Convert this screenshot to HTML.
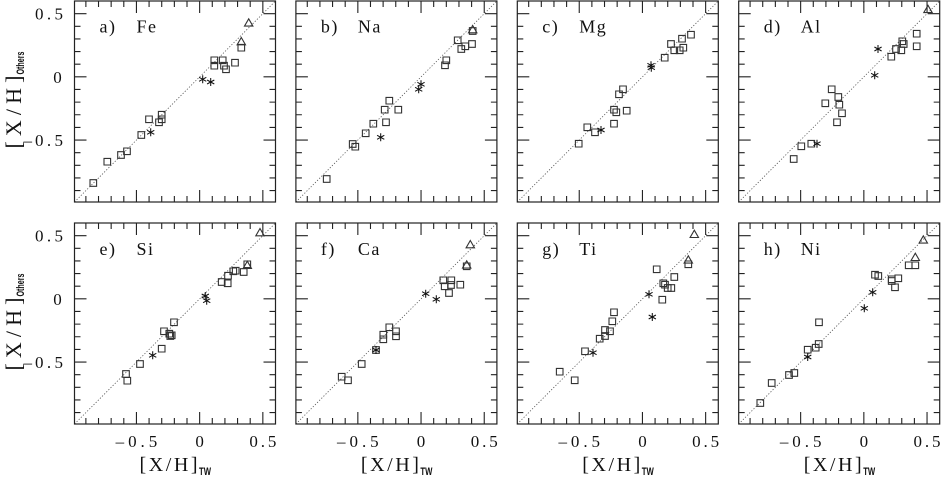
<!DOCTYPE html>
<html>
<head>
<meta charset="utf-8">
<style>
html,body{margin:0;padding:0;background:#fff;}
svg{display:block;}
text{font-family:"Liberation Serif",serif;fill:#111;}
.tk{font-size:17px;}
.pl{font-size:18px;letter-spacing:1.5px;}
.sub{font-family:"Liberation Sans",sans-serif;font-weight:bold;}
</style>
</head>
<body>
<svg width="941" height="478" viewBox="0 0 941 478" xmlns="http://www.w3.org/2000/svg">
<defs>
<g id="frame">
<line x1="0" y1="201" x2="201" y2="0" stroke="#555" stroke-width="0.8" stroke-dasharray="1.2 1.8"/>
<rect x="0" y="0" width="201" height="201" fill="none" stroke="#222" stroke-width="1.2"/>
<path fill="none" stroke="#222" stroke-width="1.1" d="M11.38 201v-6M24.02 201v-6M36.66 201v-6M49.3 201v-6M61.94 201v-12M74.58 201v-6M87.22 201v-6M99.86 201v-6M112.5 201v-6M125.14 201v-12M137.78 201v-6M150.42 201v-6M163.06 201v-6M175.7 201v-6M188.34 201v-12M11.38 0v6M24.02 0v6M36.66 0v6M49.3 0v6M61.94 0v12M74.58 0v6M87.22 0v6M99.86 0v6M112.5 0v6M125.14 0v12M137.78 0v6M150.42 0v6M163.06 0v6M175.7 0v6M188.34 0v12M0 12.64h12M0 25.28h6M0 37.92h6M0 50.56h6M0 63.2h6M0 75.84h12M0 88.48h6M0 101.12h6M0 113.76h6M0 126.4h6M0 139.04h12M0 151.68h6M0 164.32h6M0 176.96h6M0 189.6h6M201 12.64h-12M201 25.28h-6M201 37.92h-6M201 50.56h-6M201 63.2h-6M201 75.84h-12M201 88.48h-6M201 101.12h-6M201 113.76h-6M201 126.4h-6M201 139.04h-12M201 151.68h-6M201 164.32h-6M201 176.96h-6M201 189.6h-6"/>
</g>
<path id="sq" d="M-3.3 -3.3h6.6v6.6h-6.6z" fill="none" stroke="#333" stroke-width="1.1"/>
<path id="tr" d="M0 -4.5L4.2 2.8H-4.2Z" fill="none" stroke="#333" stroke-width="1.1"/>
<path id="as" d="M0 -4V4M-3.6 -2L3.6 2M-3.6 2L3.6 -2" fill="none" stroke="#111" stroke-width="1.05"/>
</defs>

<!-- frames -->
<use href="#frame" transform="translate(74.5,1)"/>
<use href="#frame" transform="translate(295.9,1)"/>
<use href="#frame" transform="translate(517.3,1)"/>
<use href="#frame" transform="translate(738.7,1)"/>
<use href="#frame" transform="translate(74.5,223)"/>
<use href="#frame" transform="translate(295.9,223)"/>
<use href="#frame" transform="translate(517.3,223)"/>
<use href="#frame" transform="translate(738.7,223)"/>

<!-- panel labels -->
<text class="pl" x="99.5" y="32.5">a)</text><text class="pl" x="136.5" y="32.5">Fe</text>
<text class="pl" x="320.9" y="32.5">b)</text><text class="pl" x="357.9" y="32.5">Na</text>
<text class="pl" x="542.3" y="32.5">c)</text><text class="pl" x="579.3" y="32.5">Mg</text>
<text class="pl" x="763.7" y="32.5">d)</text><text class="pl" x="800.7" y="32.5">Al</text>
<text class="pl" x="99.5" y="255">e)</text><text class="pl" x="136.5" y="255">Si</text>
<text class="pl" x="320.9" y="255">f)</text><text class="pl" x="357.9" y="255">Ca</text>
<text class="pl" x="542.3" y="255">g)</text><text class="pl" x="579.3" y="255">Ti</text>
<text class="pl" x="763.7" y="255">h)</text><text class="pl" x="800.7" y="255">Ni</text>

<!-- y tick labels -->
<text class="tk" x="35" y="19.6" textLength="28" lengthAdjust="spacing">0.5</text>
<text class="tk" x="53.3" y="82.8">0</text>
<text class="tk" x="23.5" y="146">–</text>
<text class="tk" x="35" y="146" textLength="28" lengthAdjust="spacing">0.5</text>
<text class="tk" x="35" y="241.6" textLength="28" lengthAdjust="spacing">0.5</text>
<text class="tk" x="53.3" y="304.8">0</text>
<text class="tk" x="23.5" y="368">–</text>
<text class="tk" x="35" y="368" textLength="28" lengthAdjust="spacing">0.5</text>

<!-- x tick labels -->
<text class="tk" x="115.64" y="447" textLength="41.6" lengthAdjust="spacing">–0.5</text>
<text class="tk" x="195.39" y="447">0</text>
<text class="tk" x="249.34" y="447" textLength="27" lengthAdjust="spacing">0.5</text>
<text class="tk" x="337.04" y="447" textLength="41.6" lengthAdjust="spacing">–0.5</text>
<text class="tk" x="416.79" y="447">0</text>
<text class="tk" x="470.74" y="447" textLength="27" lengthAdjust="spacing">0.5</text>
<text class="tk" x="558.44" y="447" textLength="41.6" lengthAdjust="spacing">–0.5</text>
<text class="tk" x="638.19" y="447">0</text>
<text class="tk" x="692.14" y="447" textLength="27" lengthAdjust="spacing">0.5</text>
<text class="tk" x="779.84" y="447" textLength="41.6" lengthAdjust="spacing">–0.5</text>
<text class="tk" x="859.59" y="447">0</text>
<text class="tk" x="913.54" y="447" textLength="27" lengthAdjust="spacing">0.5</text>

<!-- x titles -->
<text x="139.5" y="471" font-size="20" textLength="58" lengthAdjust="spacing">[X/H]</text>
<text class="sub" x="199" y="475" font-size="11" textLength="12" lengthAdjust="spacingAndGlyphs">TW</text>
<text x="360.9" y="471" font-size="20" textLength="58" lengthAdjust="spacing">[X/H]</text>
<text class="sub" x="420.4" y="475" font-size="11" textLength="12" lengthAdjust="spacingAndGlyphs">TW</text>
<text x="582.3" y="471" font-size="20" textLength="58" lengthAdjust="spacing">[X/H]</text>
<text class="sub" x="641.8" y="475" font-size="11" textLength="12" lengthAdjust="spacingAndGlyphs">TW</text>
<text x="803.7" y="471" font-size="20" textLength="58" lengthAdjust="spacing">[X/H]</text>
<text class="sub" x="863.2" y="475" font-size="11" textLength="12" lengthAdjust="spacingAndGlyphs">TW</text>

<!-- y titles -->
<g transform="translate(21,101.5) rotate(-90)">
<text x="-47" y="0" font-size="22" textLength="73" lengthAdjust="spacing">[X/H]</text>
<text class="sub" x="27" y="3" font-size="11" textLength="23" lengthAdjust="spacingAndGlyphs">Others</text>
</g>
<g transform="translate(21,323.5) rotate(-90)">
<text x="-47" y="0" font-size="22" textLength="73" lengthAdjust="spacing">[X/H]</text>
<text class="sub" x="27" y="3" font-size="11" textLength="23" lengthAdjust="spacingAndGlyphs">Others</text>
</g>

<!-- panel a: Fe -->
<use href="#sq" x="93.3" y="183"/><use href="#sq" x="107.3" y="161.7"/><use href="#sq" x="121" y="155"/><use href="#sq" x="127" y="151.3"/><use href="#sq" x="141.3" y="135"/><use href="#sq" x="149" y="119.3"/><use href="#sq" x="159" y="122.3"/><use href="#sq" x="161.7" y="114.7"/><use href="#sq" x="161.7" y="119.3"/><use href="#sq" x="214.3" y="60.3"/><use href="#sq" x="214.3" y="65.7"/><use href="#sq" x="222.7" y="60.3"/><use href="#sq" x="224" y="65.7"/><use href="#sq" x="226" y="69.3"/><use href="#sq" x="235" y="62.7"/><use href="#sq" x="241.3" y="47.7"/>
<use href="#tr" x="248.7" y="23.3"/><use href="#tr" x="241.3" y="42"/>
<use href="#as" x="150.7" y="132.3"/><use href="#as" x="202.7" y="79.3"/><use href="#as" x="210.7" y="82"/>

<!-- panel b: Na -->
<use href="#sq" x="326.7" y="179"/><use href="#sq" x="352.7" y="144"/><use href="#sq" x="355.3" y="146.7"/><use href="#sq" x="365.7" y="133.3"/><use href="#sq" x="373.3" y="123.7"/><use href="#sq" x="386" y="122.3"/><use href="#sq" x="384.7" y="109.7"/><use href="#sq" x="389.3" y="100.7"/><use href="#sq" x="398.3" y="109.7"/><use href="#sq" x="445" y="65.3"/><use href="#sq" x="446.3" y="60.3"/><use href="#sq" x="457.7" y="40.3"/><use href="#sq" x="461.3" y="49"/><use href="#sq" x="465.3" y="46.3"/><use href="#sq" x="472" y="44"/><use href="#sq" x="472.7" y="31"/>
<use href="#tr" x="472.7" y="30"/>
<use href="#as" x="380.7" y="137.3"/><use href="#as" x="421" y="84.3"/><use href="#as" x="418.7" y="89.3"/>

<!-- panel c: Mg -->
<use href="#sq" x="578.7" y="143.7"/><use href="#sq" x="587.3" y="127.3"/><use href="#sq" x="595" y="132.3"/><use href="#sq" x="614" y="123.7"/><use href="#sq" x="614" y="109.7"/><use href="#sq" x="616.3" y="112.3"/><use href="#sq" x="626.7" y="110.7"/><use href="#sq" x="619" y="94.3"/><use href="#sq" x="623" y="89.3"/><use href="#sq" x="664.7" y="57.7"/><use href="#sq" x="671" y="44"/><use href="#sq" x="674.3" y="50.3"/><use href="#sq" x="679.7" y="50.3"/><use href="#sq" x="683.3" y="47.7"/><use href="#sq" x="682" y="38.7"/><use href="#sq" x="691" y="34.7"/>
<use href="#as" x="601" y="130"/><use href="#as" x="651" y="65.3"/><use href="#as" x="651.3" y="67.7"/>

<!-- panel d: Al -->
<use href="#sq" x="793.7" y="159"/><use href="#sq" x="801.3" y="146.3"/><use href="#sq" x="811.3" y="143.7"/><use href="#sq" x="825.3" y="103.3"/><use href="#sq" x="831.7" y="89.3"/><use href="#sq" x="838.3" y="97"/><use href="#sq" x="839.3" y="104.7"/><use href="#sq" x="842" y="113.3"/><use href="#sq" x="837" y="122.3"/><use href="#sq" x="891.3" y="56.7"/><use href="#sq" x="896" y="49"/><use href="#sq" x="901.3" y="50.3"/><use href="#sq" x="902.3" y="41.3"/><use href="#sq" x="903.7" y="44"/><use href="#sq" x="916.7" y="33.7"/><use href="#sq" x="916.7" y="46.3"/>
<use href="#tr" x="928" y="9.8"/>
<use href="#as" x="817" y="143.7"/><use href="#as" x="878" y="49"/><use href="#as" x="874.7" y="75.3"/>

<!-- panel e: Si -->
<use href="#sq" x="126" y="374"/><use href="#sq" x="127.3" y="380.7"/><use href="#sq" x="140" y="364"/><use href="#sq" x="161.7" y="348.7"/><use href="#sq" x="164" y="331.3"/><use href="#sq" x="169.3" y="333.7"/><use href="#sq" x="170.3" y="336"/><use href="#sq" x="171.7" y="335.3"/><use href="#sq" x="174" y="322.3"/><use href="#sq" x="221.7" y="282"/><use href="#sq" x="227.7" y="283.3"/><use href="#sq" x="228" y="275.7"/><use href="#sq" x="233.3" y="271.3"/><use href="#sq" x="235.7" y="270.7"/><use href="#sq" x="243.7" y="272"/><use href="#sq" x="247.3" y="264.3"/>
<use href="#tr" x="260" y="233"/><use href="#tr" x="247.3" y="265.7"/>
<use href="#as" x="152.7" y="355.3"/><use href="#as" x="205.3" y="296"/><use href="#as" x="206.7" y="300.7"/>

<!-- panel f: Ca -->
<use href="#sq" x="341.7" y="376.7"/><use href="#sq" x="348" y="380.3"/><use href="#sq" x="361.7" y="364"/><use href="#sq" x="376" y="350"/><use href="#sq" x="383.3" y="334.7"/><use href="#sq" x="383.3" y="339.3"/><use href="#sq" x="389.3" y="327.3"/><use href="#sq" x="396" y="331.3"/><use href="#sq" x="396" y="336.3"/><use href="#sq" x="443.3" y="280.3"/><use href="#sq" x="444.7" y="286.3"/><use href="#sq" x="451.3" y="280.3"/><use href="#sq" x="451" y="285"/><use href="#sq" x="449" y="293"/><use href="#sq" x="460.3" y="284.7"/><use href="#sq" x="466.7" y="266.3"/>
<use href="#tr" x="470.3" y="245"/><use href="#tr" x="466.7" y="265.3"/>
<use href="#as" x="376" y="350"/><use href="#as" x="425.7" y="293.7"/><use href="#as" x="436.3" y="299.3"/>

<!-- panel g: Ti -->
<use href="#sq" x="559.7" y="371.7"/><use href="#sq" x="574.7" y="380.3"/><use href="#sq" x="585" y="351.3"/><use href="#sq" x="599.7" y="338.7"/><use href="#sq" x="605" y="336"/><use href="#sq" x="605" y="330"/><use href="#sq" x="610" y="331.3"/><use href="#sq" x="612.3" y="321.3"/><use href="#sq" x="614" y="312.3"/><use href="#sq" x="656.7" y="269.3"/><use href="#sq" x="662.3" y="299.7"/><use href="#sq" x="663.3" y="283.3"/><use href="#sq" x="665" y="284.7"/><use href="#sq" x="667.7" y="288"/><use href="#sq" x="671.3" y="288"/><use href="#sq" x="674.3" y="277"/><use href="#sq" x="688.3" y="264.3"/>
<use href="#tr" x="694.3" y="234.7"/><use href="#tr" x="688.3" y="260.3"/>
<use href="#as" x="593" y="352.7"/><use href="#as" x="649" y="294.3"/><use href="#as" x="652.3" y="317"/>

<!-- panel h: Ni -->
<use href="#sq" x="760.3" y="403"/><use href="#sq" x="771.7" y="383"/><use href="#sq" x="789" y="375"/><use href="#sq" x="794.3" y="373"/><use href="#sq" x="807.7" y="349.7"/><use href="#sq" x="815.7" y="347.7"/><use href="#sq" x="818.7" y="344"/><use href="#sq" x="819" y="322.3"/><use href="#sq" x="875" y="274.7"/><use href="#sq" x="878.3" y="276"/><use href="#sq" x="891.7" y="279.3"/><use href="#sq" x="891.7" y="281"/><use href="#sq" x="898.3" y="278.3"/><use href="#sq" x="895" y="287.3"/><use href="#sq" x="908.7" y="265.3"/><use href="#sq" x="915.3" y="265.3"/>
<use href="#tr" x="923.3" y="240.3"/><use href="#tr" x="915.3" y="257.7"/>
<use href="#as" x="807.7" y="357"/><use href="#as" x="872.7" y="292.3"/><use href="#as" x="864.3" y="308.3"/>
</svg>
</body>
</html>
